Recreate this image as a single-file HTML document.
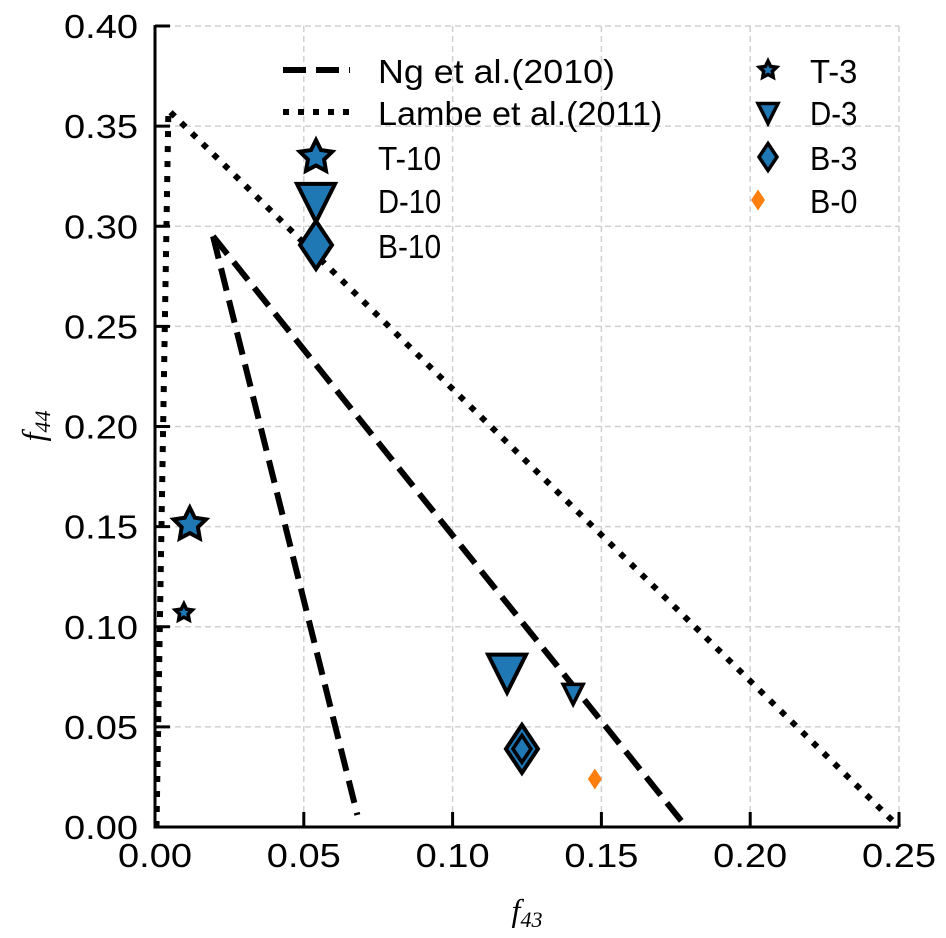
<!DOCTYPE html>
<html><head><meta charset="utf-8"><style>
html,body{margin:0;padding:0;background:#fff}
svg{display:block}
text{font-family:"Liberation Sans","Noto Sans CJK SC",sans-serif;fill:#000}
</style></head><body>
<svg id="chart" width="946" height="938" viewBox="0 0 946 938" xmlns="http://www.w3.org/2000/svg">
<g id="grid"></g>
<g id="series"></g>
<g id="axes"></g>
<g id="legend"></g>
<text x="527" y="921" text-anchor="middle" style="font-family:'Liberation Serif',serif;font-style:italic;font-size:32px">f<tspan font-size="22" dy="6">43</tspan></text>
<text transform="translate(44,426) rotate(-90)" text-anchor="middle" style="font-family:'Liberation Serif',serif;font-style:italic;font-size:32px">f<tspan font-size="22" dy="6">44</tspan></text>
</svg>
<script>
const xTicks=[0,0.05,0.10,0.15,0.20,0.25];
const xTickLabels=["0.00","0.05","0.10","0.15","0.20","0.25"];
const yTicks=[0,0.05,0.10,0.15,0.20,0.25,0.30,0.35,0.40];
const yTickLabels=["0.00","0.05","0.10","0.15","0.20","0.25","0.30","0.35","0.40"];
const ngLine1X=[0.0195,0.068];
const ngLine1Y=[0.295,0.006];
const ngLine2X=[0.0195,0.1785];
const ngLine2Y=[0.295,0.0];
const lambeX=[0.0005,0.0045,0.25];
const lambeY=[0.0,0.358,0.0];
const pointNames=["T-10","T-3","D-10","D-3","B-10","B-3","B-0"];
const pointX=[0.0117,0.0097,0.1183,0.1405,0.1233,0.1233,0.1478];
const pointY=[0.151,0.107,0.078,0.067,0.039,0.039,0.024];

const X0=155,X1=899,Y0=827,Y1=26;
const sx=v=>X0+(v-0)/(0.25)*(X1-X0);
const sy=v=>Y0-(v/0.40)*(Y0-Y1);
const NS="http://www.w3.org/2000/svg";
function mk(tag,attrs,parent){const e=document.createElementNS(NS,tag);for(const k in attrs)e.setAttribute(k,attrs[k]);parent.appendChild(e);return e;}
const grid=document.getElementById('grid'),series=document.getElementById('series'),axes=document.getElementById('axes'),legend=document.getElementById('legend');

xTicks.forEach((t,i)=>{
  const x=sx(t);
  if(i>0){const g=mk('line',{x1:x,x2:x,y1:Y1,y2:Y0,stroke:'#d0d0d0','stroke-width':1.5,'stroke-dasharray':'6,4'},grid);
  }
  const tk=mk('line',{x1:x,x2:x,y1:Y0,y2:Y0-15,stroke:'#000','stroke-width':3},axes);
  
  const lb=mk('text',{x:x,y:Y0+40,'text-anchor':'middle','font-size':33,textLength:74,lengthAdjust:'spacingAndGlyphs'},axes);
  lb.textContent=xTickLabels[i];
  
});
yTicks.forEach((t,i)=>{
  const y=sy(t);
  if(i>0){const g=mk('line',{x1:X0,x2:X1,y1:y,y2:y,stroke:'#d0d0d0','stroke-width':1.5,'stroke-dasharray':'6,4'},grid);
  }
  const tk=mk('line',{x1:X0,x2:X0+15,y1:y,y2:y,stroke:'#000','stroke-width':3},axes);
  
  const lb=mk('text',{x:138,y:y+12,'text-anchor':'end','font-size':33,textLength:74,lengthAdjust:'spacingAndGlyphs'},axes);
  lb.textContent=yTickLabels[i];
  
});
const sp1=mk('line',{x1:X0,x2:X0,y1:Y1-1,y2:Y0+1.5,stroke:'#000','stroke-width':3},axes);

const sp2=mk('line',{x1:X0-1.5,x2:X1,y1:Y0,y2:Y0,stroke:'#000','stroke-width':3},axes);


function poly(xs,ys,dash,name){
  const p=mk('polyline',{points:xs.map((v,i)=>sx(v)+','+sy(ys[i])).join(' '),fill:'none',stroke:'#000','stroke-width':6,'stroke-dasharray':dash==='dot'?'6,9':'23,10'},series);
  
}
poly(ngLine1X,ngLine1Y,'dash','ng-2010-line-1');
poly(ngLine2X,ngLine2Y,'dash','ng-2010-line-2');
poly(lambeX,lambeY,'dot','lambe-2011-line');

function star(cx,cy,r){let s=[];for(let i=0;i<10;i++){const a=-Math.PI/2+i*Math.PI/5;const rr=i%2?r*0.5:r;s.push((cx+rr*Math.cos(a)).toFixed(1)+','+(cy+rr*Math.sin(a)).toFixed(1));}return s.join(' ');}
function tri(cx,cy,r){return `${cx-r},${cy-r*0.85} ${cx+r},${cy-r*0.85} ${cx},${cy+r*1.15}`;}
function dia(cx,cy,r){return `${cx},${cy-r*1.5} ${cx+r},${cy} ${cx},${cy+r*1.5} ${cx-r},${cy}`;}
function marker(kind,cx,cy,r,fill,sw,parent,name){
  const pts=kind==='star'?star(cx,cy,r):kind==='tri'?tri(cx,cy,r):dia(cx,cy,r);
  const m=mk('polygon',{points:pts,fill:fill,stroke:fill==='#ff7f0e'?'none':'#000','stroke-width':sw,'stroke-linejoin':'miter'},parent);
  
}
const kinds=['star','star','tri','tri','dia','dia','dia'];
const sizes=[17,9,19,10,16,9,7];
const fills=['#1f77b4','#1f77b4','#1f77b4','#1f77b4','#1f77b4','#1f77b4','#ff7f0e'];
pointNames.forEach((n,i)=>{marker(kinds[i],sx(pointX[i]),sy(pointY[i]),sizes[i],fills[i],sizes[i]>12?4:3.5,series,'point-'+n.toLowerCase());});

function ltext(x,y,s,name){const t=mk('text',{x:x,y:y+13,'font-size':33,textLength:s.length*15.8,lengthAdjust:'spacingAndGlyphs'},legend);t.textContent=s;
}
const l1=mk('line',{x1:283,x2:350,y1:70,y2:70,stroke:'#000','stroke-width':6,'stroke-dasharray':'23,10'},legend);

ltext(378,70,'Ng et al.(2010)','legend-ng-label');
const l2=mk('line',{x1:283,x2:350,y1:112,y2:112,stroke:'#000','stroke-width':6,'stroke-dasharray':'6,9'},legend);

ltext(378,112,'Lambe et al.(2011)','legend-lambe-label');
const legRows=[[316,157,'star',17,'#1f77b4','T-10'],[316,200,'tri',19,'#1f77b4','D-10'],[316,245,'dia',16,'#1f77b4','B-10'],
 [768,70,'star',9,'#1f77b4','T-3'],[768,112,'tri',10,'#1f77b4','D-3'],[768,157,'dia',9,'#1f77b4','B-3'],[758,200,'dia',7,'#ff7f0e','B-0']];
legRows.forEach(r=>{marker(r[2],r[0],r[1],r[3],r[4],r[3]>12?4:3.5,legend,'legend-marker-'+r[5].toLowerCase());
 ltext(r[0]<500?378:810,r[1],r[5],'legend-label-'+r[5].toLowerCase());});
</script>
</body></html>
